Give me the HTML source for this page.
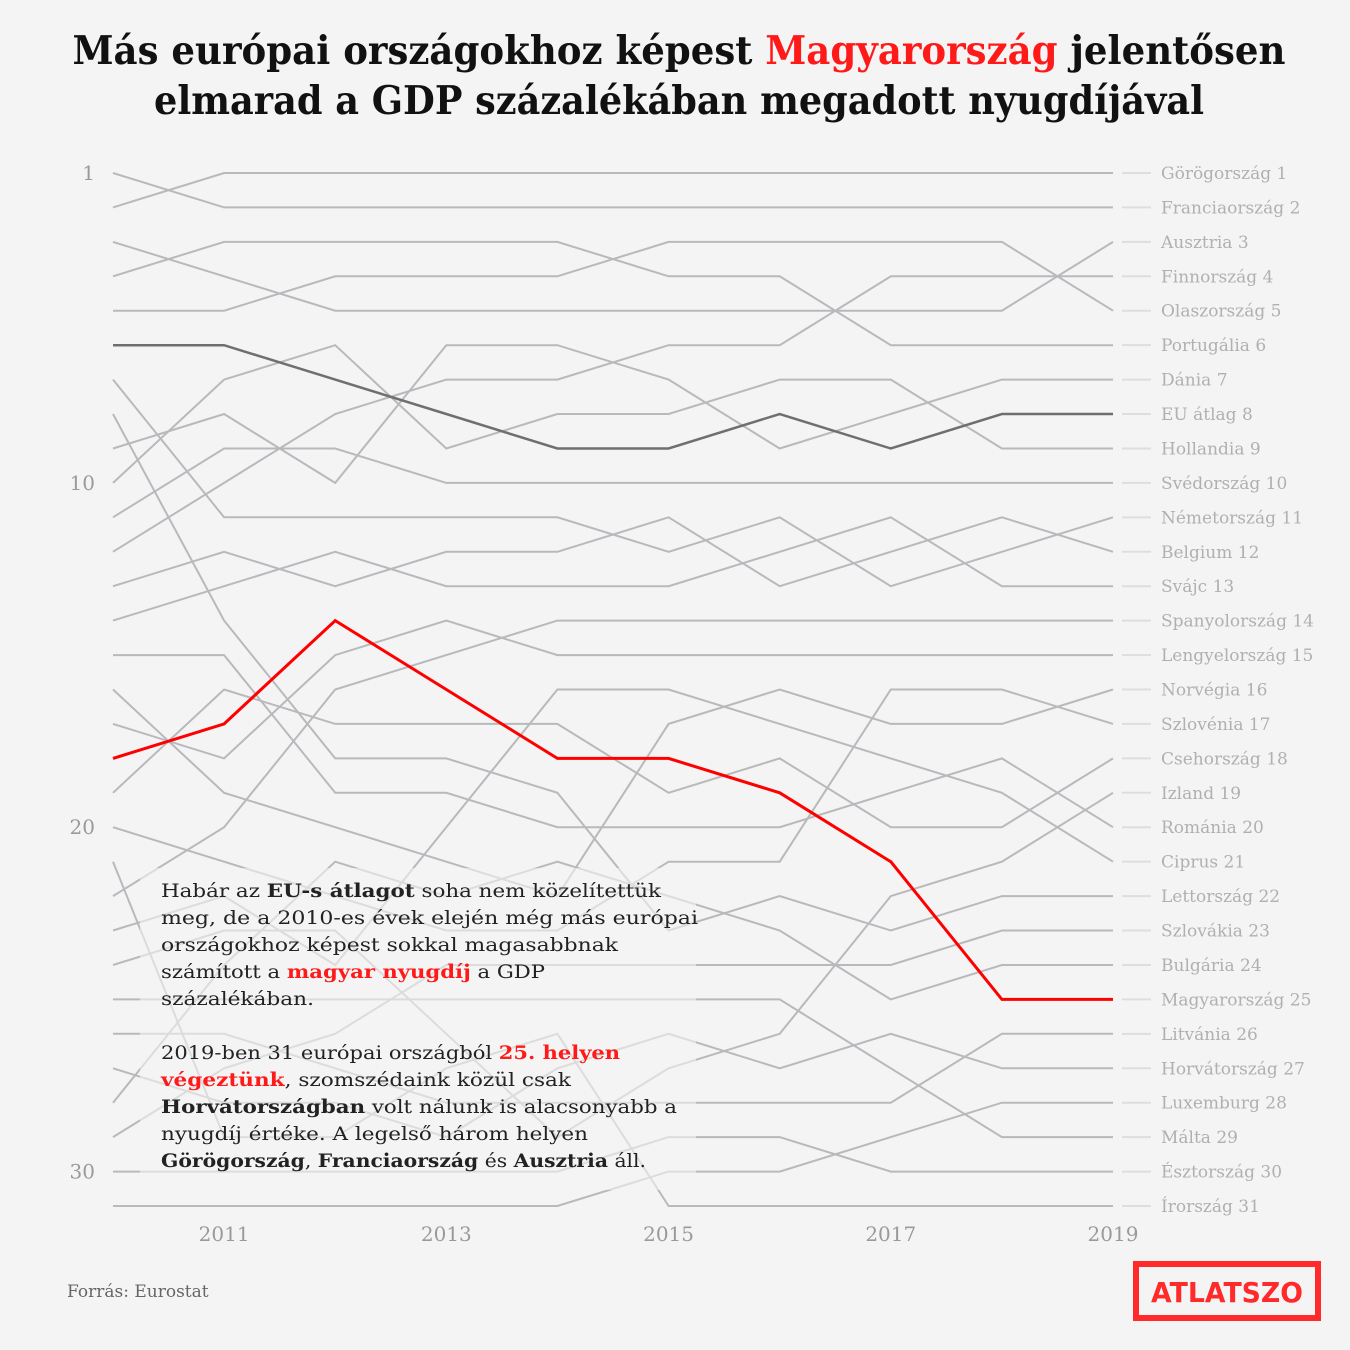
<!DOCTYPE html>
<html><head><meta charset="utf-8">
<style>
html,body{margin:0;padding:0;background:#f4f4f4;}
svg{display:block;}
.lab{font-family:"DejaVu Serif","Liberation Serif",serif;font-size:17px;fill:#b0b0b0;}
.ax{font-family:"DejaVu Serif","Liberation Serif",serif;font-size:20px;fill:#9a9a9a;}
.p{font-family:"DejaVu Serif","Liberation Serif",serif;font-size:19px;fill:#222;}
.b{font-weight:bold;}
.r{fill:#ff1a1a;}
</style></head>
<body>
<svg id="chart" width="1350" height="1350" viewBox="0 0 1350 1350" xmlns="http://www.w3.org/2000/svg">
<rect width="1350" height="1350" fill="#f4f4f4"/>
<g font-family="'DejaVu Serif','Liberation Serif',serif" font-weight="bold" font-size="39" fill="#111" text-anchor="middle">
<text x="679" y="64" textLength="1213" lengthAdjust="spacingAndGlyphs">Más európai országokhoz képest <tspan fill="#ff1a1a">Magyarország</tspan> jelentősen</text>
<text x="679" y="114" textLength="1050" lengthAdjust="spacingAndGlyphs">elmarad a GDP százalékában megadott nyugdíjával</text>
</g>
<g id="yaxis"></g>
<g id="xaxis"></g>
<g id="series"></g>
<rect x="140" y="868" width="556" height="322" fill="#f4f4f4" opacity="0.6"/>
<g>
<text class="p" x="161" y="897" textLength="500" lengthAdjust="spacingAndGlyphs">Habár az <tspan class="b">EU-s átlagot</tspan> soha nem közelítettük</text>
<text class="p" x="161" y="924" textLength="537" lengthAdjust="spacingAndGlyphs">meg, de a 2010-es évek elején még más európai</text>
<text class="p" x="161" y="951" textLength="457" lengthAdjust="spacingAndGlyphs">országokhoz képest sokkal magasabbnak</text>
<text class="p" x="161" y="978" textLength="384" lengthAdjust="spacingAndGlyphs">számított a  <tspan class="b r">magyar nyugdíj</tspan> a GDP</text>
<text class="p" x="161" y="1005" textLength="153" lengthAdjust="spacingAndGlyphs">százalékában.</text>
<text class="p" x="161" y="1059" textLength="459" lengthAdjust="spacingAndGlyphs">2019-ben 31 európai országból <tspan class="b r">25. helyen</tspan></text>
<text class="p" x="161" y="1086" textLength="410" lengthAdjust="spacingAndGlyphs"><tspan class="b r">végeztünk</tspan>, szomszédaink közül csak</text>
<text class="p" x="161" y="1113" textLength="516" lengthAdjust="spacingAndGlyphs"><tspan class="b">Horvátországban</tspan> volt nálunk is alacsonyabb  a</text>
<text class="p" x="161" y="1140" textLength="427" lengthAdjust="spacingAndGlyphs">nyugdíj értéke. A legelső három helyen</text>
<text class="p" x="161" y="1167" textLength="485" lengthAdjust="spacingAndGlyphs"><tspan class="b">Görögország</tspan>, <tspan class="b">Franciaország</tspan> és <tspan class="b">Ausztria</tspan> áll.</text>
</g>
<text x="67" y="1297" font-family="'DejaVu Serif','Liberation Serif',serif" font-size="17" fill="#666">Forrás: Eurostat</text>
<g>
<rect x="1136" y="1264" width="182" height="54" fill="none" stroke="#ff2a2a" stroke-width="6"/>
<text x="1227" y="1302" text-anchor="middle" font-family="'DejaVu Sans','Liberation Sans',sans-serif" font-weight="bold" font-size="28" fill="#ff2a2a" textLength="152" lengthAdjust="spacingAndGlyphs">ATLATSZO</text>
</g>
</svg>
<script>
const years = [2010, 2011, 2012, 2013, 2014, 2015, 2016, 2017, 2018, 2019];
const xTickYears = [2011, 2013, 2015, 2017, 2019];
const yTickRanks = [1, 10, 20, 30];
const countries = ["Görögország","Franciaország","Ausztria","Finnország","Olaszország","Portugália","Dánia","EU átlag","Hollandia","Svédország","Németország","Belgium","Svájc","Spanyolország","Lengyelország","Norvégia","Szlovénia","Csehország","Izland","Románia","Ciprus","Lettország","Szlovákia","Bulgária","Magyarország","Litvánia","Horvátország","Luxemburg","Málta","Észtország","Írország"];
const ranks = [
[2,1,1,1,1,1,1,1,1,1],
[1,2,2,2,2,2,2,2,2,2],
[3,4,5,5,5,5,5,5,5,3],
[12,10,8,7,7,6,6,4,4,4],
[5,5,4,4,4,3,3,3,3,5],
[4,3,3,3,3,4,4,6,6,6],
[9,8,10,6,6,7,9,8,7,7],
[6,6,7,8,9,9,8,9,8,8],
[10,7,6,9,8,8,7,7,9,9],
[11,9,9,10,10,10,10,10,10,10],
[7,11,11,11,11,12,11,13,12,11],
[13,12,13,12,12,11,13,12,11,12],
[14,13,12,13,13,13,12,11,13,13],
[22,20,16,15,14,14,14,14,14,14],
[17,18,15,14,15,15,15,15,15,15],
[16,19,20,21,22,17,16,17,17,16],
[20,21,22,23,23,21,21,16,16,17],
[19,16,17,17,17,19,18,20,20,18],
[24,23,23,26,29,27,26,22,21,19],
[15,15,19,19,20,20,20,19,18,20],
[23,22,24,20,16,16,17,18,19,21],
[8,14,18,18,19,23,22,23,22,22],
[29,27,26,24,24,24,24,24,23,23],
[28,24,21,22,21,22,23,25,24,24],
[18,17,14,16,18,18,19,21,25,25],
[26,26,27,28,28,28,28,28,26,26],
[27,28,28,29,27,26,27,26,27,27],
[31,31,31,31,31,30,30,29,28,28],
[25,25,25,25,25,25,25,27,29,29],
[30,30,30,30,30,29,29,30,30,30],
[21,29,29,27,26,31,31,31,31,31]
];
const NS = "http://www.w3.org/2000/svg";
function xPos(yr){ return 113 + (yr - 2010) * (1000 / 9); }
function yPos(r){ return 173 + (r - 1) * (1033 / 30); }
function mk(tag, attrs, parent){ const e = document.createElementNS(NS, tag); for (const k in attrs) e.setAttribute(k, attrs[k]); parent.appendChild(e); return e; }
const yax = document.getElementById('yaxis');
yTickRanks.forEach(r => {
  const t = mk('text', {x: 95, y: yPos(r) + 7, 'text-anchor': 'end', class: 'ax'}, yax);
  
  
  t.textContent = r;
});
const xax = document.getElementById('xaxis');
xTickYears.forEach(yr => {
  const t = mk('text', {x: xPos(yr), y: 1241, 'text-anchor': 'middle', class: 'ax'}, xax);
  
  
  t.textContent = yr;
});
const sg = document.getElementById('series');
const order = countries.map((c, i) => i).sort((a, b) => {
  const w = c => c === 'Magyarország' ? 2 : (c === 'EU átlag' ? 1 : 0);
  return w(countries[a]) - w(countries[b]);
});
order.forEach(i => {
  const c = countries[i];
  const pts = ranks[i].map((r, j) => xPos(years[j]).toFixed(1) + ',' + yPos(r).toFixed(1)).join(' ');
  let col = '#b9b9bd', sw = 2;
  if (c === 'EU átlag') { col = '#6f6f6f'; sw = 2.5; }
  if (c === 'Magyarország') { col = '#ff0000'; sw = 3; }
  const pl = mk('polyline', {points: pts, fill: 'none', stroke: col, 'stroke-width': sw, 'stroke-linejoin': 'miter'}, sg);
  
  
  const last = ranks[i][ranks[i].length - 1];
  const tk = mk('line', {x1: 1122, x2: 1151, y1: yPos(last), y2: yPos(last), stroke: '#dedede', 'stroke-width': 2}, sg);
  
  
  const lb = mk('text', {x: 1161, y: yPos(last) + 6, class: 'lab'}, sg);
  if (c === 'EU átlag') lb.setAttribute('fill', '#555');
  if (c === 'Magyarország') lb.setAttribute('fill', '#ff1a1a');
  
  
  lb.textContent = c + ' ' + last;
});
</script>
</body></html>
